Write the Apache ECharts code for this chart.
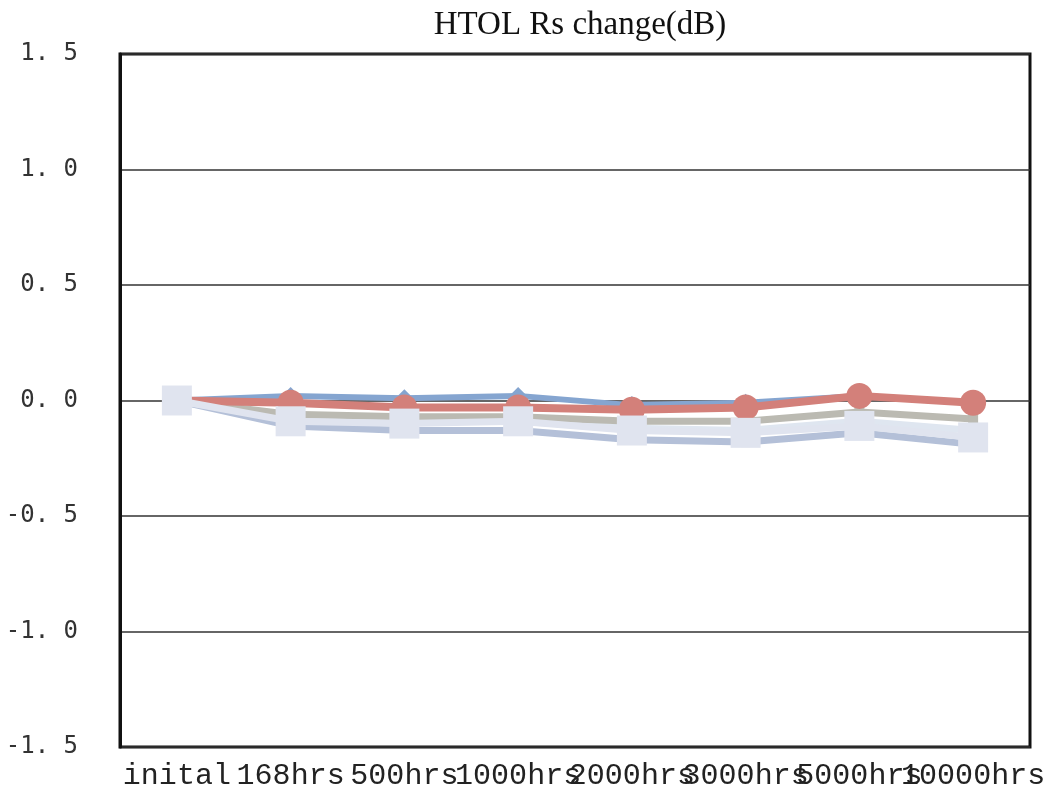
<!DOCTYPE html>
<html><head><meta charset="utf-8">
<script src="https://cdn.jsdelivr.net/npm/echarts@6/dist/echarts.min.js"></script>
<style>html,body{margin:0;padding:0;background:#fff}#c{width:1043px;height:804px}</style>
</head><body><div id="c"></div>
<script>
const categories = ['inital','168hrs','500hrs','1000hrs','2000hrs','3000hrs','5000hrs','10000hrs'];
const yTicks = [-1.5,-1.0,-0.5,0.0,0.5,1.0,1.5];
const sBlue     = [0, 0.02, 0.01, 0.02, -0.02, -0.01, 0.02, -0.01];
const sRed      = [0, -0.01, -0.03, -0.03, -0.04, -0.03, 0.02, -0.01];
const sGrey     = [0, -0.06, -0.07, -0.07, -0.09, -0.09, -0.05, -0.08];
const sLight    = [0, -0.08, -0.09, -0.09, -0.12, -0.13, -0.09, -0.13];
const sSteel    = [0, -0.11, -0.13, -0.13, -0.17, -0.18, -0.14, -0.19];
const sLavender = [0, -0.09, -0.10, -0.09, -0.13, -0.14, -0.11, -0.16];

function line(data, color, symbol, size, z, width) {
  return {
    type: 'line', data: data, symbol: symbol, symbolSize: size, z: z,
    lineStyle: {color: color, width: width},
    itemStyle: {color: color},
    animation: false
  };
}
const chart = echarts.init(document.getElementById('c'));
chart.setOption({
  animation: false,
  title: {text: 'HTOL Rs change(dB)', left: 575, textAlign: 'center', top: 4,
    textStyle: {fontFamily: 'Liberation Serif', fontSize: 33, fontWeight: 'normal', color: '#111'}},
  grid: {left: 120, right: 13, top: 54, bottom: 57, show: true, borderColor: '#111', borderWidth: 3,
    containLabel: false, outerBoundsMode: 'none'},
  xAxis: {type: 'category', data: categories, boundaryGap: true,
    axisLine: {show: false}, axisTick: {show: false},
    axisLabel: {interval: 0, margin: 14, fontFamily: 'Liberation Mono', fontSize: 30, color: '#222', hideOverlap: false}},
  yAxis: {type: 'value', min: -1.5, max: 1.5, interval: 0.5,
    axisLine: {show: true, lineStyle: {color: '#111', width: 3}}, axisTick: {show: false},
    splitLine: {lineStyle: {color: '#333', width: 1.5}},
    axisLabel: {margin: 42, fontFamily: 'DejaVu Sans Mono', fontSize: 24, color: '#333',
      formatter: v => v.toFixed(1).replace('.', '. ')}},
  series: [
    line(sSteel, '#b4c0d8', 'rect', 10, 2, 7),
    line(sLight, '#dfe6f0', 'rect', 10, 3, 7),
    line(sGrey, '#bbbab2', 'rect', 10, 4, 7),
    line(sBlue, '#85a5d0', 'diamond', 18, 5, 6),
    line(sRed, '#d3807a', 'circle', 26, 6, 8),
    line(sLavender, '#e0e4ef', 'rect', 30, 7, 7)
  ]
});
</script></body></html>
